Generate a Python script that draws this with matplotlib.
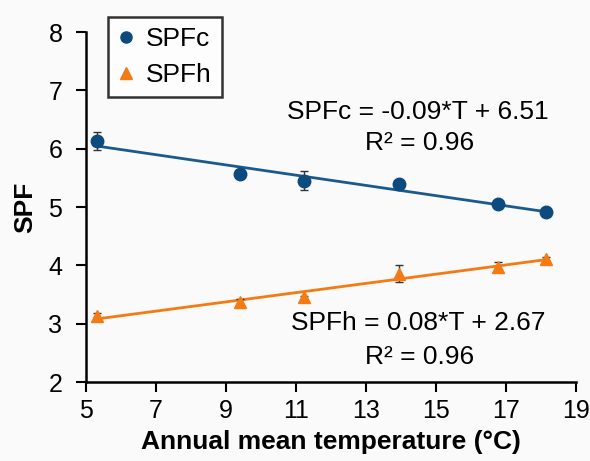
import matplotlib
matplotlib.use("Agg")
import matplotlib.pyplot as plt
from matplotlib.lines import Line2D
import numpy as np

plt.rcParams['font.family'] = ['Liberation Sans', 'DejaVu Sans']

temps = [5.3, 9.4, 11.24, 13.95, 16.77, 18.15]
spfc = [6.13, 5.57, 5.45, 5.39, 5.05, 4.91]
spfc_err = [0.15, 0.05, 0.16, 0.03, 0.03, 0.02]
spfh = [3.13, 3.37, 3.45, 3.86, 3.97, 4.11]
spfh_err = [0.06, 0.05, 0.03, 0.14, 0.08, 0.04]
fit_c = (-0.09, 6.51)
fit_h = (0.08, 2.67)
xticks = [5, 7, 9, 11, 13, 15, 17, 19]
yticks = [2, 3, 4, 5, 6, 7, 8]

blue = '#0D4A7E'
blue_line = '#1B5A8C'
orange = '#F47B14'
FS = 19

fig = plt.figure(figsize=(5.90, 4.61), dpi=100, facecolor='#fafafa')
ax = fig.add_axes([86/590, 1-382/461, (576-86)/590, (382-32)/461])
ax.set_facecolor('#fafafa')

T = np.array(temps)
tt = np.array([T.min(), T.max()])
pc = np.polyfit(T, spfc, 1)
ph = np.polyfit(T, spfh, 1)
ax.plot(tt, np.polyval(pc, tt), color=blue_line, lw=2, zorder=2)
ax.plot(tt, np.polyval(ph, tt), color=orange, lw=2, zorder=2)

ax.errorbar(temps, spfc, yerr=spfc_err, fmt='o', color=blue, ms=9,
            ecolor='#333333', elinewidth=1, capsize=3, capthick=1, zorder=3)
ax.errorbar(temps, spfh, yerr=spfh_err, fmt='^', color=orange, ms=9,
            ecolor='#333333', elinewidth=1, capsize=3, capthick=1, zorder=3)

ax.set_xlim(5, 19)
ax.set_ylim(2, 8)
ax.set_xticks(xticks)
ax.set_yticks(yticks)
ax.tick_params(axis='both', labelsize=18, direction='out', length=7, width=1.5, color='black')
ax.tick_params(axis='y', pad=10)
ax.tick_params(axis='x', pad=5)
for s in ['top', 'right']:
    ax.spines[s].set_visible(False)
for s in ['left', 'bottom']:
    ax.spines[s].set_linewidth(1.8)

ax.set_xlabel('Annual mean temperature (°C)', fontsize=FS, fontweight='bold', labelpad=5)
ax.set_ylabel('SPF', fontsize=FS, fontweight='bold', labelpad=8)

H = 461
ax.text(418, H - 112, 'SPFc = %.2f*T + %.2f' % fit_c, transform=None, fontsize=FS,
        ha='center', va='center')
ax.text(420, H - 143, 'R² = 0.96', transform=None, fontsize=FS, ha='center', va='center')
ax.text(418, H - 323, 'SPFh = %.2f*T + %.2f' % fit_h, transform=None, fontsize=FS,
        ha='center', va='center')
ax.text(420, H - 357, 'R² = 0.96', transform=None, fontsize=FS, ha='center', va='center')

handles = [Line2D([], [], ls='none', marker='o', color=blue, ms=8),
           Line2D([], [], ls='none', marker='^', color=orange, ms=8)]
labels = ['SPFc', 'SPFh']
leg = fig.legend(handles, labels, loc='upper left', bbox_to_anchor=(108/590, 1-17/461),
                 fontsize=FS, frameon=True, fancybox=False, edgecolor='black',
                 handlelength=0.6, handletextpad=0.45, borderpad=0.38, labelspacing=0.45,
                 borderaxespad=0)
leg.get_frame().set_linewidth(1.8)
leg.get_frame().set_facecolor('white')

fig.savefig('out.png', dpi=100, facecolor=fig.get_facecolor())
